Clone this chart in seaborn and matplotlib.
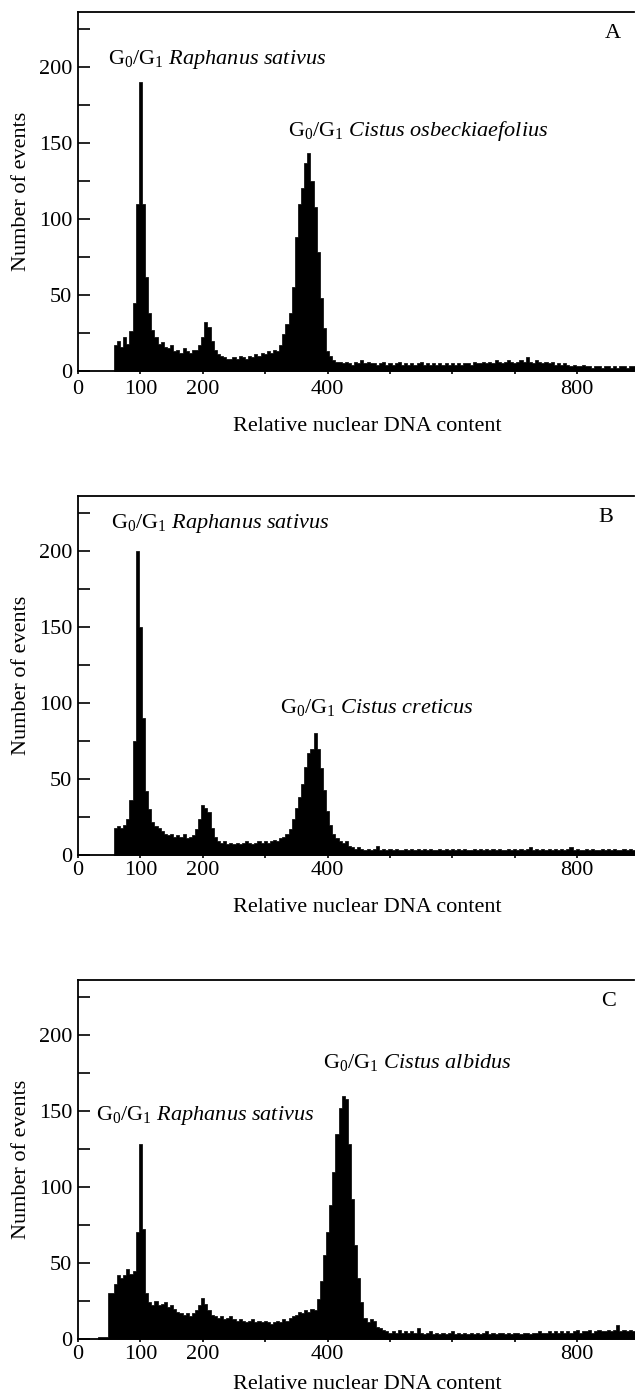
import numpy as np
import pandas as pd
import matplotlib
matplotlib.use('Agg')
import matplotlib.pyplot as plt
import seaborn as sns

sns.set_theme(style='white')
plt.rcParams['font.family'] = ['Liberation Serif', 'DejaVu Serif']
plt.rcParams['mathtext.fontset'] = 'custom'
plt.rcParams['mathtext.rm'] = 'Liberation Serif'
plt.rcParams['mathtext.it'] = 'Liberation Serif:italic'

# channel width of the histogram (relative DNA units)
bin_width = 5

# panel A: Raphanus sativus + Cistus osbeckiaefolius
start_a = 60
counts_a = [17, 20, 16, 22, 18, 26, 45, 110, 190, 110,
            62, 38, 27, 22, 18, 19, 16, 15, 17, 13,
            14, 12, 15, 13, 12, 14, 14, 17, 22, 32,
            29, 20, 14, 11, 10, 9, 8, 8, 9, 8,
            10, 9, 8, 10, 9, 11, 10, 12, 11, 13,
            12, 14, 13, 17, 24, 31, 38, 55, 88, 110,
            120, 137, 143, 125, 108, 78, 48, 28, 13, 10,
            7, 6, 6, 5, 6, 5, 4, 6, 5, 7,
            5, 6, 5, 5, 4, 5, 6, 4, 5, 4,
            5, 6, 4, 5, 4, 5, 4, 5, 6, 4,
            5, 4, 5, 4, 5, 4, 5, 4, 5, 4,
            5, 4, 5, 5, 4, 6, 5, 5, 6, 5,
            6, 5, 7, 6, 5, 6, 7, 6, 5, 6,
            7, 6, 9, 6, 5, 7, 6, 5, 6, 5,
            6, 4, 5, 4, 5, 4, 3, 4, 3, 3,
            4, 3, 3, 2, 3, 3, 2, 3, 3, 2,
            3, 2, 3, 3, 2, 3, 3]

# panel B: Raphanus sativus + Cistus creticus
start_b = 60
counts_b = [18, 19, 18, 20, 24, 36, 75, 200, 150, 90,
            42, 30, 22, 19, 18, 16, 14, 13, 14, 12,
            13, 12, 14, 11, 12, 13, 17, 24, 33, 31,
            28, 18, 12, 9, 8, 9, 7, 8, 7, 8,
            7, 8, 9, 8, 7, 8, 9, 8, 9, 8,
            9, 10, 9, 11, 12, 14, 17, 24, 31, 38,
            47, 58, 67, 70, 80, 70, 57, 43, 29, 20,
            14, 11, 9, 8, 9, 6, 5, 4, 5, 4,
            3, 4, 3, 4, 6, 3, 4, 3, 4, 3,
            4, 3, 3, 4, 3, 4, 3, 4, 3, 4,
            3, 4, 3, 3, 4, 3, 4, 3, 4, 3,
            4, 3, 4, 3, 3, 4, 3, 4, 3, 4,
            3, 4, 3, 4, 3, 3, 4, 3, 4, 3,
            4, 3, 4, 5, 3, 4, 3, 4, 3, 4,
            3, 4, 3, 4, 3, 4, 5, 3, 4, 3,
            3, 4, 3, 4, 3, 3, 4, 3, 4, 3,
            4, 3, 3, 4, 3, 4, 3]

# panel C: Raphanus sativus + Cistus albidus
start_c = 35
counts_c = [1, 1, 1, 30, 30, 36, 42, 40, 42, 46,
            43, 45, 70, 128, 72, 30, 24, 22, 25, 22,
            23, 24, 21, 22, 20, 18, 17, 16, 17, 15,
            17, 19, 22, 27, 23, 19, 16, 15, 14, 15,
            13, 14, 15, 13, 12, 13, 12, 11, 12, 13,
            11, 12, 11, 12, 11, 10, 11, 12, 11, 13,
            12, 14, 15, 16, 18, 17, 19, 18, 20, 19,
            26, 38, 55, 70, 88, 110, 135, 152, 160, 158,
            128, 92, 62, 40, 24, 14, 11, 13, 12, 8,
            7, 6, 5, 4, 5, 4, 6, 4, 5, 4,
            5, 4, 7, 4, 3, 4, 5, 3, 4, 3,
            4, 3, 4, 5, 3, 4, 3, 4, 3, 4,
            3, 4, 3, 4, 5, 3, 4, 3, 4, 4,
            3, 4, 3, 4, 4, 3, 4, 4, 3, 4,
            4, 5, 4, 4, 5, 4, 5, 4, 5, 4,
            5, 4, 5, 6, 4, 5, 5, 6, 4, 5,
            6, 5, 5, 6, 5, 6, 9, 5, 6, 5,
            6, 5]

xtick_vals = [0, 100, 200, 300, 400, 500, 600, 700, 800]
xtick_labels = ['0', '100', '200', '', '400', '', '', '', '800']
ytick_vals = [0, 50, 100, 150, 200]

panels = [
    dict(start=start_a, counts=counts_a, letter='A', letter_xy=(0.962, 0.941),
         bottom=0.7337, xpad=4.3, xlab_y=-0.128,
         labels=[(48, 205, 'Raphanus\\ sativus'), (336, 158, 'Cistus\\ osbeckiaefolius')]),
    dict(start=start_b, counts=counts_b, letter='B', letter_xy=(0.95, 0.939),
         bottom=0.3862, xpad=2.0, xlab_y=-0.12,
         labels=[(53, 218, 'Raphanus\\ sativus'), (324, 97, 'Cistus\\ creticus')]),
    dict(start=start_c, counts=counts_c, letter='C', letter_xy=(0.955, 0.939),
         bottom=0.0388, xpad=1.5, xlab_y=-0.1,
         labels=[(29, 147, 'Raphanus\\ sativus'), (393, 182, 'Cistus\\ albidus')]),
]

fig = plt.figure(figsize=(6.35, 13.93), dpi=100)

for p in panels:
    ax = fig.add_axes([0.1228, p['bottom'], 0.8756, 0.2577])
    centers = p['start'] + bin_width * np.arange(len(p['counts']))
    df = pd.DataFrame({'dna': centers, 'events': p['counts']})
    sns.histplot(data=df, x='dna', weights='events', binwidth=bin_width,
                 binrange=(centers[0] - bin_width / 2, centers[-1] + bin_width / 2),
                 element='step', fill=True, color='black', alpha=1, linewidth=0.5, ax=ax)

    ax.set_xlim(0, 891)
    ax.set_ylim(0, 236)

    for side in ['top', 'left', 'bottom']:
        ax.spines[side].set_color('black')
        ax.spines[side].set_linewidth(1.3)
    ax.spines['right'].set_visible(False)

    ax.set_yticks(ytick_vals)
    ax.set_yticks(np.arange(25, 236, 50), minor=True)
    ax.tick_params(axis='y', which='both', direction='in', length=8.6, width=1.2,
                   color='black', left=True, labelsize=16, labelcolor='black', pad=4)
    ax.set_xticks(xtick_vals)
    ax.set_xticklabels(xtick_labels)
    ax.tick_params(axis='x', which='major', direction='out', length=2.5, width=1.2,
                   color='black', bottom=True, labelsize=16, labelcolor='black', pad=p['xpad'])

    ax.set_ylabel('Number of events', fontsize=16, color='black')
    ax.yaxis.set_label_coords(-0.085, 0.5)
    ax.set_xlabel('Relative nuclear DNA content', fontsize=16, color='black')
    ax.xaxis.set_label_coords(0.52, p['xlab_y'])

    for x, y, name in p['labels']:
        ax.text(x, y, r'G$_0$/G$_1$ $\mathit{' + name + '}$', fontsize=16,
                ha='left', va='center', color='black')
    ax.text(p['letter_xy'][0], p['letter_xy'][1], p['letter'], transform=ax.transAxes,
            fontsize=16, ha='center', va='center', color='black')

fig.savefig('out.png', dpi=100)
